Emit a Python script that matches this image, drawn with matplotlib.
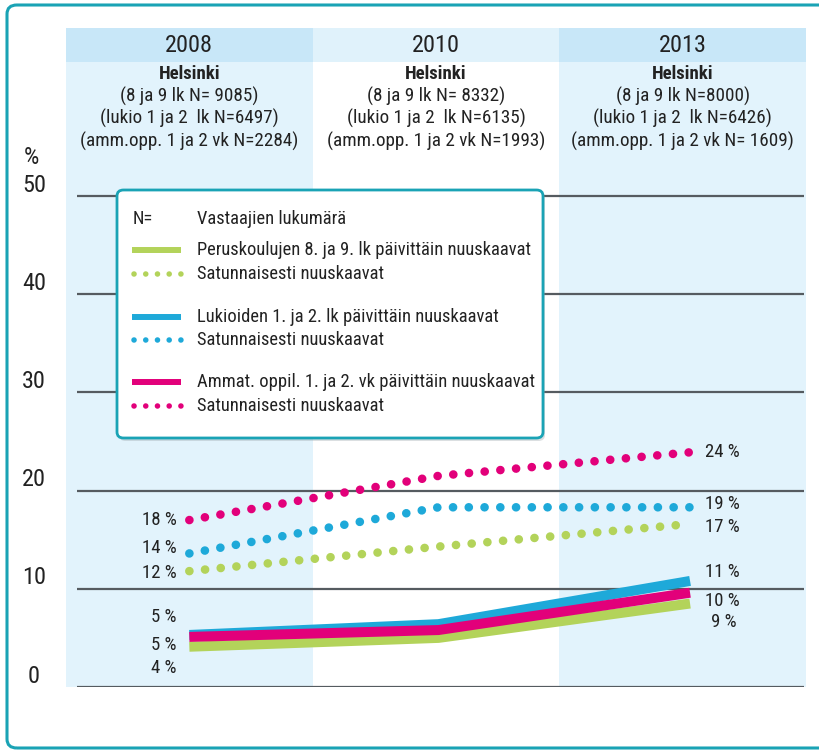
import matplotlib
matplotlib.use("Agg")
import matplotlib.pyplot as plt
from matplotlib import font_manager
from matplotlib.patches import FancyBboxPatch, Rectangle
from matplotlib.lines import Line2D

# ---------------- data ----------------
years = ["2008", "2010", "2013"]
city = "Helsinki"
n_peruskoulu = ["(8 ja 9 lk N= 9085)", "(8 ja 9 lk N= 8332)", "(8 ja 9 lk N=8000)"]
n_lukio = ["(lukio 1 ja 2  lk N=6497)", "(lukio 1 ja 2  lk N=6135)", "(lukio 1 ja 2  lk N=6426)"]
n_amm = ["(amm.opp. 1 ja 2 vk N=2284)", "(amm.opp. 1 ja 2 vk N=1993)", "(amm.opp. 1 ja 2 vk N= 1609)"]

perus_daily = [4.1, 5.0, 8.5]
lukio_daily = [5.3, 6.4, 10.8]
amm_daily = [5.1, 5.8, 9.6]
perus_occ = [11.8, 14.3, 16.6]
lukio_occ = [13.6, 18.3, 18.3]
amm_occ = [17.0, 21.5, 23.9]

left_labels = ["18 %", "14 %", "12 %", "5 %", "5 %", "4 %"]
right_labels = ["24 %", "19 %", "17 %", "11 %", "10 %", "9 %"]
yticks = [0, 10, 20, 30, 40, 50]

legend_rows = [
    ("N=", "Vastaajien lukumärä"),
    ("solid_g", "Peruskoulujen 8. ja 9. lk päivittäin nuuskaavat"),
    ("dot_g", "Satunnaisesti nuuskaavat"),
    ("solid_b", "Lukioiden 1. ja 2. lk päivittäin nuuskaavat"),
    ("dot_b", "Satunnaisesti nuuskaavat"),
    ("solid_p", "Ammat. oppil. 1. ja 2. vk päivittäin nuuskaavat"),
    ("dot_p", "Satunnaisesti nuuskaavat"),
]

# ---------------- style ----------------
avail = {f.name for f in font_manager.fontManager.ttflist}
narrow = None
for cand in ["Liberation Sans Narrow", "Roboto Condensed", "Open Sans Condensed", "Arial Narrow"]:
    if cand in avail:
        narrow = cand
        break
FONT = [narrow, "DejaVu Sans"] if narrow else ["Liberation Sans", "DejaVu Sans"]
plt.rcParams["font.family"] = FONT

GREEN = "#b3d35a"
BLUE = "#1ea9d9"
PINK = "#e2007a"
TEAL = "#1aa3b5"
GRID = "#555b60"
TXT = "#222222"
HDR_DARK = "#c8e7f8"
HDR_LIGHT = "#e0f2fb"
BODY = "#e2f3fc"

W, H = 819, 751
fig = plt.figure(figsize=(W / 100, H / 100), dpi=100)

def fx(px):
    return px / W

def fy(py):
    return 1 - py / H

# outer frame
frame = FancyBboxPatch((fx(7), fy(748)), fx(840) - fx(7), fy(5) - fy(748),
                       boxstyle="round,pad=0,rounding_size=0.012",
                       transform=fig.transFigure, fc="none", ec=TEAL, lw=2.2,
                       clip_on=False, zorder=-1)
fig.patches.append(frame)

# axes: x from px 66..806 (-0.5..2.5), y from px 687 (0) .. 28
ax_l, ax_r, ax_t, ax_b = 66, 806, 28, 687
ax = fig.add_axes([fx(ax_l), fy(ax_b), fx(ax_r) - fx(ax_l), fy(ax_t) - fy(ax_b)])
ax.set_zorder(1)
px_per_unit = (687 - 196) / 50.0
ymax = (ax_b - ax_t) / px_per_unit
ax.set_xlim(-0.5, 2.5)
ax.set_ylim(0, ymax)
ax.axis("off")

hdr_bottom = (ax_b - 62) / px_per_unit
for i, yr in enumerate(years):
    body_c = BODY if i != 1 else "white"
    hdr_c = HDR_DARK if i != 1 else HDR_LIGHT
    ax.add_patch(Rectangle((i - 0.5, 0), 1, hdr_bottom, fc=body_c, ec="none", zorder=0))
    ax.add_patch(Rectangle((i - 0.5, hdr_bottom), 1, ymax - hdr_bottom, fc=hdr_c, ec="none", zorder=0))
    ax.text(i, (ax_b - 45) / px_per_unit, yr, ha="center", va="center", fontsize=17.5, color=TXT)
    ax.text(i, (ax_b - 74) / px_per_unit, city, ha="center", va="center", fontsize=13.5, color=TXT, fontweight="bold")
    ax.text(i, (ax_b - 96) / px_per_unit, n_peruskoulu[i], ha="center", va="center", fontsize=13.8, color=TXT)
    ax.text(i, (ax_b - 118) / px_per_unit, n_lukio[i], ha="center", va="center", fontsize=13.8, color=TXT)
    ax.text(i, (ax_b - 141) / px_per_unit, n_amm[i], ha="center", va="center", fontsize=13.8, color=TXT)

# gridlines and y labels
for v in yticks:
    ax.hlines(v, -0.455, 2.49, color=GRID, lw=1.6, zorder=1)
    ax.text(-0.63, v + 1.1, str(v), ha="center", va="center", fontsize=17.5, color=TXT, clip_on=False)
ax.text(-0.64, (ax_b - 158) / px_per_unit, "%", ha="center", va="center", fontsize=17.5, color=TXT, clip_on=False)

# data lines
X = [0, 1.01, 2.03]
dot = dict(lw=6.2, linestyle=(0, (0.01, 1.82)), dash_capstyle="round", zorder=3)
ax.plot(X, perus_occ, color=GREEN, **dot)
ax.plot(X, lukio_occ, color=BLUE, **dot)
ax.plot(X, amm_occ, color=PINK, **dot)
sol = dict(lw=7.2, solid_capstyle="butt", solid_joinstyle="miter", zorder=4)
ax.plot(X, lukio_daily, color=BLUE, **sol)
ax.plot(X, perus_daily, color=GREEN, **sol)
ax.plot(X, amm_daily, color=PINK, **sol)

# value labels
left_y = [17.0, 14.15, 11.6, 7.1, 4.3, 1.9]
for lab, yv in zip(left_labels, left_y):
    ax.text(-0.05, yv, lab, ha="right", va="center", fontsize=13.5, color=TXT)
right_y = [23.9, 18.6, 16.3, 11.7, 8.75, 6.6]
right_x = [2.09, 2.09, 2.09, 2.09, 2.09, 2.115]
for lab, xv, yv in zip(right_labels, right_x, right_y):
    ax.text(xv, yv, lab, ha="left", va="center", fontsize=13.5, color=TXT)

# legend box (figure coords)
lx0, lx1, ly0, ly1 = 117, 543, 190, 438
shadow = FancyBboxPatch((fx(lx0 + 2), fy(ly1 + 3)), fx(lx1) - fx(lx0), fy(ly0) - fy(ly1),
                        boxstyle="round,pad=0,rounding_size=0.008", transform=fig.transFigure,
                        fc="#9aa4aa", ec="none", alpha=0.35, zorder=5)
fig.patches.append(shadow)
box = FancyBboxPatch((fx(lx0), fy(ly1)), fx(lx1) - fx(lx0), fy(ly0) - fy(ly1),
                     boxstyle="round,pad=0,rounding_size=0.008", transform=fig.transFigure,
                     fc="white", ec=TEAL, lw=2.0, zorder=6)
fig.patches.append(box)
row_y = [219, 250, 274, 317, 340, 382, 406]
cmap = {"g": GREEN, "b": BLUE, "p": PINK}
for (key, label), ry in zip(legend_rows, row_y):
    if key == "N=":
        fig.text(fx(133), fy(ry), "N=", ha="left", va="center", fontsize=13.3, color=TXT, zorder=7)
    elif key.startswith("solid"):
        fig.lines.append(Line2D([fx(132), fx(181)], [fy(ry), fy(ry)], transform=fig.transFigure,
                                color=cmap[key[-1]], lw=4.3, solid_capstyle="butt", zorder=7))
    else:
        fig.lines.append(Line2D([fx(134), fx(181)], [fy(ry), fy(ry)], transform=fig.transFigure,
                                color=cmap[key[-1]], lw=4.0, linestyle=(0, (0.01, 2.1)),
                                dash_capstyle="round", zorder=7))
    fig.text(fx(197), fy(ry), label, ha="left", va="center", fontsize=13.3, color=TXT, zorder=7)

fig.savefig("out.png", dpi=100)
